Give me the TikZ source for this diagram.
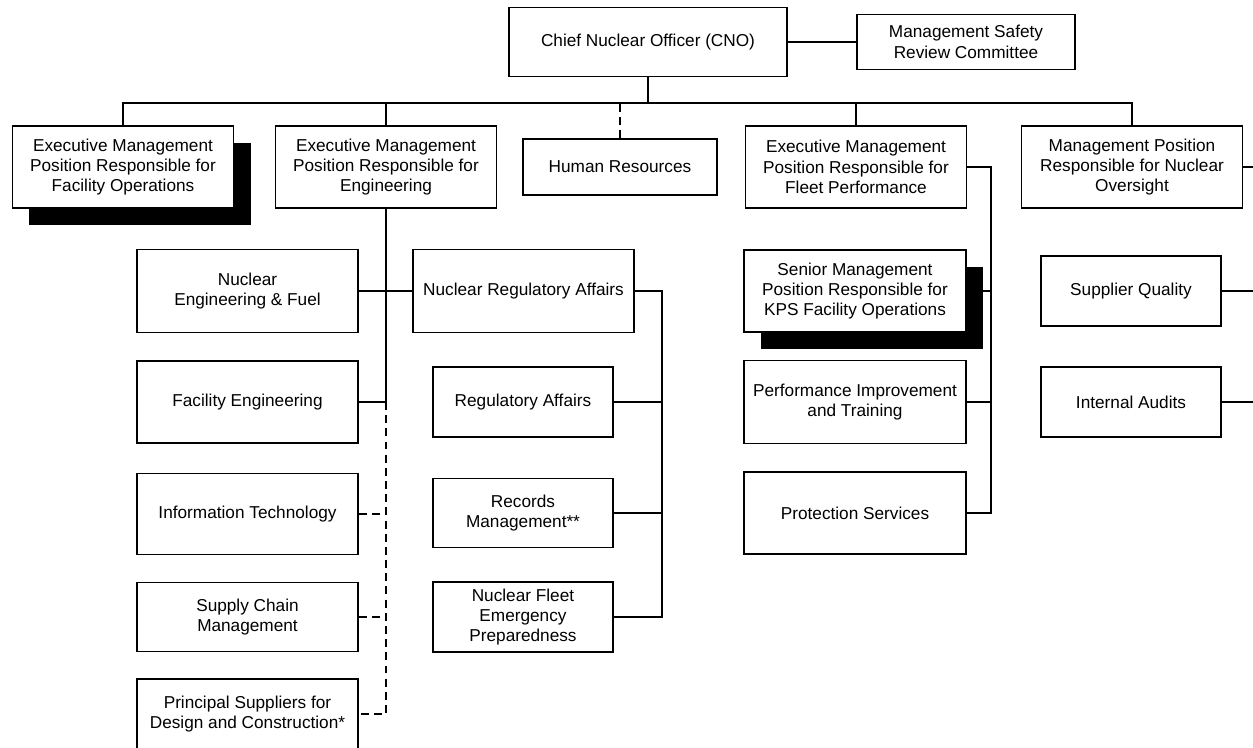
\documentclass[tikz,border=0pt]{standalone}
\usepackage{fontspec}
\setmainfont{Liberation Sans}
\usepackage{tikz}
\usetikzlibrary{positioning,shadows,calc}

\tikzset{
  orgbox/.style 2 args={draw, fill=white, align=center, inner sep=1pt,
    minimum width=#1*0.02cm, minimum height=#2*0.02cm,
    font=\fontsize{9.8}{11.6}\selectfont},
  blackshade/.style={drop shadow={shadow xshift=0.34cm, shadow yshift=-0.34cm,
    fill=black, opacity=1}},
  dotline/.style={dash pattern=on 4.5pt off 3pt}
}

\begin{document}
\begin{tikzpicture}[x=0.02cm,y=-0.02cm,line width=0.75pt]
\useasboundingbox (0,0) rectangle (1253,747);

\node[orgbox={278}{69}] (cno) at (648,42) {Chief Nuclear Officer (CNO)};
\node[orgbox={218}{55}] (msrc) at (966,42) {Management Safety\\Review Committee};

\node[orgbox={221}{82},blackshade] (facops) at (123,167) {Executive Management\\Position Responsible for\\Facility Operations};
\node[orgbox={221}{82}] (eng) at (386,167) {Executive Management\\Position Responsible for\\Engineering};
\node[orgbox={194}{56}] (hr) at (620,167) {Human Resources};
\node[orgbox={221}{82}] (fleet) at (856,167) {Executive Management\\Position Responsible for\\Fleet Performance};
\node[orgbox={221}{82}] (oversight) at (1132,167) {Management Position\\Responsible for Nuclear\\Oversight};

\node[orgbox={221}{83}] (nef) at (247.5,291) {Nuclear\\Engineering \& Fuel};
\node[orgbox={221}{82}] (faceng) at (247.5,402) {Facility Engineering};
\node[orgbox={221}{81}] (it) at (247.5,514) {Information Technology};
\node[orgbox={221}{69}] (scm) at (247.5,617) {Supply Chain\\Management};
\node[orgbox={221}{70}] (psdc) at (247.5,714) {Principal Suppliers for\\Design and Construction*};

\node[orgbox={221}{83}] (nra) at (523.5,291) {Nuclear Regulatory Affairs};
\node[orgbox={180}{70}] (ra) at (523,402) {Regulatory Affairs};
\node[orgbox={180}{69}] (rm) at (523,513) {Records\\Management**};
\node[orgbox={180}{70}] (nfep) at (523,617) {Nuclear Fleet\\Emergency\\Preparedness};

\node[orgbox={222}{82},blackshade] (kps) at (855,291) {Senior Management\\Position Responsible for\\KPS Facility Operations};
\node[orgbox={222}{83}] (pit) at (855,402) {Performance Improvement\\and Training};
\node[orgbox={222}{82}] (ps) at (855,513) {Protection Services};

\node[orgbox={180}{70}] (sq) at (1131,291) {Supplier Quality};
\node[orgbox={180}{70}] (ia) at (1131,402) {Internal Audits};

\coordinate (bus) at (648,103);
\coordinate (engspine) at (386,402);
\coordinate (nraspine) at (662,291);
\coordinate (fleetspine) at (991,167);
\coordinate (edge) at (1253,0);

\draw (cno.east) -- (msrc.west);
\draw (cno.south) -- (bus);
\draw (facops.north) |- (bus) -| (oversight.north);
\draw (eng.north) -- (eng.north |- bus);
\draw (fleet.north) -- (fleet.north |- bus);
\draw[dotline] (hr.north) -- (hr.north |- bus);

\draw (eng.south) -- (engspine);
\draw (nef.east) -- (nra.west);
\draw (faceng.east) -- (engspine);
\draw[dotline] (engspine) -- (engspine |- psdc.east) -- (psdc.east);
\draw[dotline] (it.east) -- (it.east -| engspine);
\draw[dotline] (scm.east) -- (scm.east -| engspine);

\draw (nra.east) -- (nraspine) |- (nfep.east);
\draw (ra.east) -- (ra.east -| nraspine);
\draw (rm.east) -- (rm.east -| nraspine);

\draw (fleet.east) -- (fleetspine) |- (ps.east);
\draw (kps.east) -- (kps.east -| fleetspine);
\draw (pit.east) -- (pit.east -| fleetspine);

\draw (oversight.east) -- (oversight.east -| edge);
\draw (sq.east) -- (sq.east -| edge);
\draw (ia.east) -- (ia.east -| edge);
\end{tikzpicture}
\end{document}
